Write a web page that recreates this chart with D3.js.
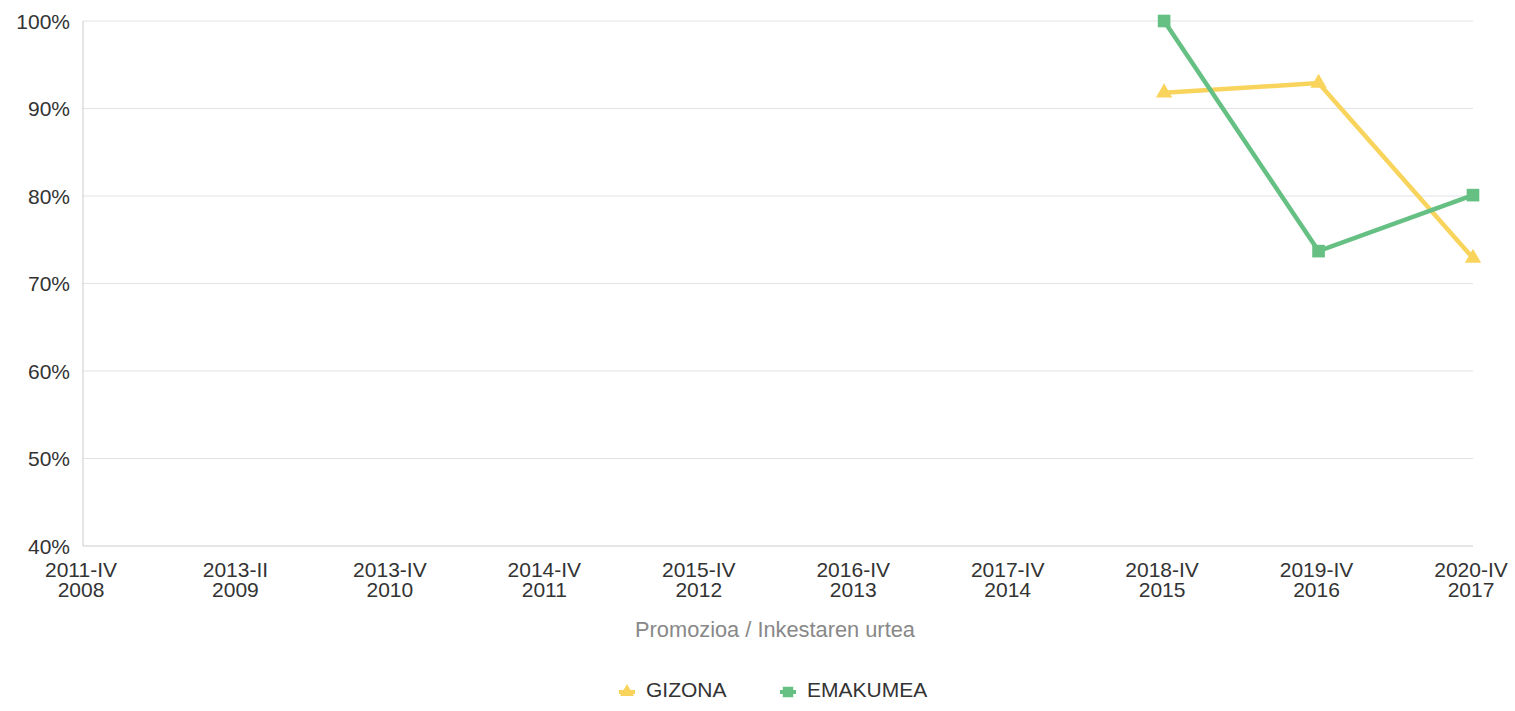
<!DOCTYPE html>
<html><head><meta charset="utf-8">
<script src="https://cdn.jsdelivr.net/npm/d3@7"></script>
<style>body{margin:0;background:#fff;font-family:"Liberation Sans",Arial,sans-serif;}</style>
</head><body><svg id="c" width="1515" height="711"></svg>
<script>
const categories = [["2011-IV","2008"],["2013-II","2009"],["2013-IV","2010"],["2014-IV","2011"],["2015-IV","2012"],["2016-IV","2013"],["2017-IV","2014"],["2018-IV","2015"],["2019-IV","2016"],["2020-IV","2017"]];
const gizona = [null,null,null,null,null,null,null,91.8,92.9,72.9];
const emakumea = [null,null,null,null,null,null,null,100,73.7,80.1];
const yTicks = [40,50,60,70,80,90,100];
const seriesNames = ["GIZONA","EMAKUMEA"];
const colors = ["#f9d45c","#66c084"];

const svg = d3.select("#c").attr("font-family","'Liberation Sans',Arial,sans-serif");
const L=83, R=1473, T=21, B=546;
const x = d3.scalePoint().domain(d3.range(categories.length)).range([L,R]);
const y = d3.scaleLinear().domain([40,100]).range([B,T]);

svg.append("g").selectAll("line").data(yTicks.slice(1)).join("line")
  .attr("x1",L).attr("x2",R).attr("y1",d=>y(d)).attr("y2",d=>y(d))
  .attr("stroke","#dfe2e6").attr("stroke-width",1);
svg.append("line").attr("x1",L).attr("x2",L).attr("y1",T).attr("y2",B).attr("stroke","#ccc");
svg.append("line").attr("x1",L).attr("x2",R).attr("y1",B).attr("y2",B).attr("stroke","#ccc");

svg.append("g").selectAll("text").data(yTicks).join("text")
  .attr("x",70).attr("y",d=>y(d)+7.5).attr("text-anchor","end")
  .attr("font-size",21).attr("fill","#333").text(d=>d+"%");

const xl = svg.append("g").selectAll("text").data(categories).join("text")
  .attr("text-anchor","middle").attr("font-size",21).attr("fill","#333");
xl.append("tspan").attr("x",(d,i)=>x(i)-2).attr("y",577).text(d=>d[0]);
xl.append("tspan").attr("x",(d,i)=>x(i)-2).attr("y",597).text(d=>d[1]);

svg.append("text").attr("x",775).attr("y",637).attr("text-anchor","middle")
  .attr("font-size",21.8).attr("fill","#888").text("Promozioa / Inkestaren urtea");

const tri = d3.symbol().type(d3.symbolTriangle).size(115);
const sq = d3.symbol().type(d3.symbolSquare).size(160);

[gizona,emakumea].forEach((vals,si)=>{
  const pts = vals.map((v,i)=>[i,v]).filter(p=>p[1]!=null);
  svg.append("path").datum(pts)
    .attr("d",d3.line().x(p=>x(p[0])).y(p=>y(p[1])))
    .attr("fill","none").attr("stroke",colors[si]).attr("stroke-width",4.5);
  svg.append("g").selectAll("path").data(pts).join("path")
    .attr("transform",p=>`translate(${x(p[0])},${y(p[1])})`)
    .attr("d",si===0?tri:sq).attr("fill",colors[si]);
});

const leg = [{x:627,name:seriesNames[0]},{x:788,name:seriesNames[1]}];
leg.forEach((l,i)=>{
  const g = svg.append("g").attr("transform",`translate(${l.x},692)`);
  g.append("line").attr("x1",-8).attr("x2",8).attr("stroke",colors[i]).attr("stroke-width",4);
  g.append("path").attr("d",i===0?d3.symbol().type(d3.symbolTriangle).size(85)():d3.symbol().type(d3.symbolSquare).size(110)()).attr("fill",colors[i]);
  g.append("text").attr("x",19).attr("y",5).attr("font-size",21).attr("fill","#333").text(l.name);
});
</script></body></html>
